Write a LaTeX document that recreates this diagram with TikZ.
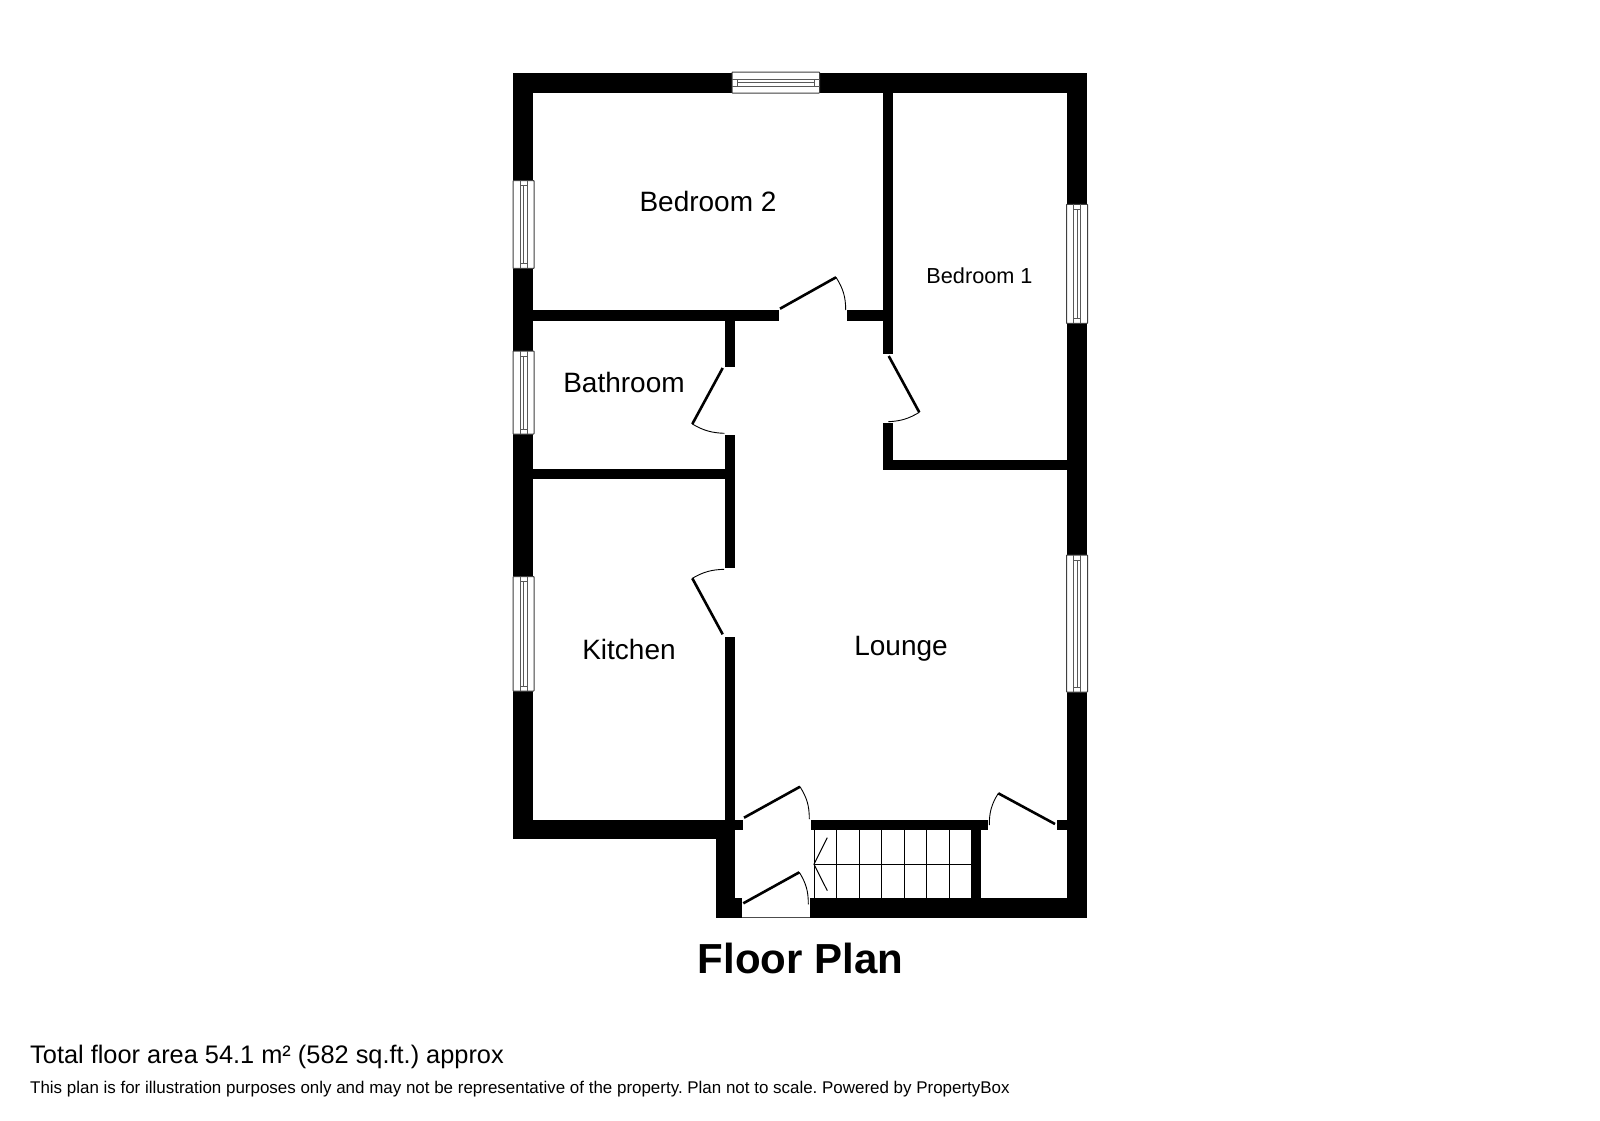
\documentclass[tikz,border=0pt]{standalone}
\usepackage{fontspec}
\setmainfont{Liberation Sans}
\frenchspacing
\tikzset{
  wall/.style={fill=black,draw=none},
  winframe/.style={fill=white,draw=black!75,line width=1pt,rounded corners=0.5pt},
  winrail/.style={draw=black!65,line width=0.8pt},
  leaf/.style={draw=black,line width=2.6pt},
  swing/.style={draw=black,line width=0.9pt},
  tread/.style={draw=black,line width=1pt},
  label/.style={inner sep=0pt,text=black,anchor=center}
}
\newcommand{\vwin}[3]{% x-left, y-top, y-bottom
  \path[winframe] (#1,#2) rectangle (#1+21,#3);
  \draw[winrail] (#1+7,#2) -- (#1+7,#3) (#1+14,#2) -- (#1+14,#3);
  \draw[winrail,line width=0.6pt] (#1+10.5,#2+5) -- (#1+10.5,#3-5);
  \draw[winrail] (#1+7,#2+5) -- (#1+14,#2+5) (#1+7,#3-5) -- (#1+14,#3-5);
}
\begin{document}
\begin{tikzpicture}[x=1pt,y=-1pt]
\useasboundingbox[fill=white] (0,0) rectangle (1600,1120);
% outer walls
\path[wall] (513.3,72.5) rectangle (1087,92.5);
\path[wall] (513.3,72.5) rectangle (533,839.3);
\path[wall] (1067.3,72.5) rectangle (1087,918);
\path[wall] (513.3,819.5) rectangle (735,839.3);
\path[wall] (716,819.5) rectangle (735,918);
\path[wall] (716,898) rectangle (741.5,918);
\path[wall] (809.5,898) rectangle (1087,918);
% inner walls
\path[wall] (725,319.5) rectangle (735,366.5);
\path[wall] (725,434.5) rectangle (735,568);
\path[wall] (725,636.5) rectangle (735,830);
\path[wall] (533,310) rectangle (778.5,320.5);
\path[wall] (847,310) rectangle (884,320.5);
\path[wall] (883.3,92.5) rectangle (893.3,354);
\path[wall] (883.3,422.5) rectangle (893.3,470);
\path[wall] (883.3,460) rectangle (1067.3,470);
\path[wall] (533,468.5) rectangle (725,478.5);
\path[wall] (725,819.5) rectangle (742.5,830);
\path[wall] (810.5,819.5) rectangle (988,830);
\path[wall] (1056.5,819.5) rectangle (1067.3,830);
\path[wall] (971,830) rectangle (981,898);
\draw[draw=black!70,line width=0.8pt] (741.5,917.6) -- (809.5,917.6);
% stairs
\foreach \sx in {814,836.7,859.3,881.7,904.3,926.7,949.3}
  \draw[tread] (\sx,830) -- (\sx,898);
\draw[tread] (814,864.3) -- (971,864.3);
\draw[tread] (827.3,837.7) -- (814,864.3) -- (827.3,890.7);
% windows
\path[winframe] (732,72) rectangle (819.5,93);
\draw[winrail] (732,79) -- (819.5,79) (732,86) -- (819.5,86);
\draw[winrail,line width=0.6pt] (737,82.5) -- (814.5,82.5);
\draw[winrail] (737,79) -- (737,86) (814.5,79) -- (814.5,86);
\vwin{513}{180.7}{268.3}
\vwin{513}{351}{434}
\vwin{513}{576.7}{691}
\vwin{1066.5}{204.3}{323.3}
\vwin{1066.5}{555}{692}
% doors
\draw[leaf] (780,308.7) -- (836,277.3);
\draw[swing] (836,277.3) to[bend left=16] (845.7,310);
\draw[leaf] (888.7,356) -- (919.3,412.3);
\draw[swing] (919.3,412.3) to[bend left=14] (888.3,421.7);
\draw[leaf] (722.7,368) -- (692.3,424);
\draw[swing] (692.3,424) to[bend right=14] (724.3,433.3);
\draw[leaf] (722.7,634.3) -- (692.3,578.3);
\draw[swing] (692.3,578.3) to[bend left=14] (724,569.3);
\draw[leaf] (744,817.7) -- (800,786.7);
\draw[swing] (800,786.7) to[bend left=16] (809.3,819);
\draw[leaf] (743.3,903.3) -- (799.3,872.3);
\draw[swing] (799.3,872.3) to[bend left=16] (808.3,904.3);
\draw[leaf] (1055,824) -- (998.3,793.3);
\draw[swing] (998.3,793.3) to[bend right=16] (989.3,825);
% labels
\node[label,font=\fontsize{28}{30}\selectfont] (bed2) at (708,201.3) {Bedroom 2};
\node[label,font=\fontsize{21.7}{24}\selectfont] (bed1) at (979.5,276) {Bedroom 1};
\node[label,font=\fontsize{28}{30}\selectfont] (bath) at (624,382.3) {Bathroom};
\node[label,font=\fontsize{28}{30}\selectfont] (kit) at (629,649.3) {Kitchen};
\node[label,font=\fontsize{28}{30}\selectfont] (lounge) at (901,649) {Lounge};
\node[label,font=\bfseries\fontsize{42}{46}\selectfont] (title) at (800.5,958) {Floor Plan};
\node[inner sep=0pt,anchor=base west,font=\fontsize{25.36}{28}\selectfont] (area) at (30,1063) {Total floor area 54.1 m² (582 sq.ft.) approx};
\node[inner sep=0pt,anchor=base west,font=\fontsize{16.95}{20}\selectfont] (note) at (30,1093) {This plan is for illustration purposes only and may not be representative of the property. Plan not to scale. Powered by PropertyBox};
\end{tikzpicture}
\end{document}
